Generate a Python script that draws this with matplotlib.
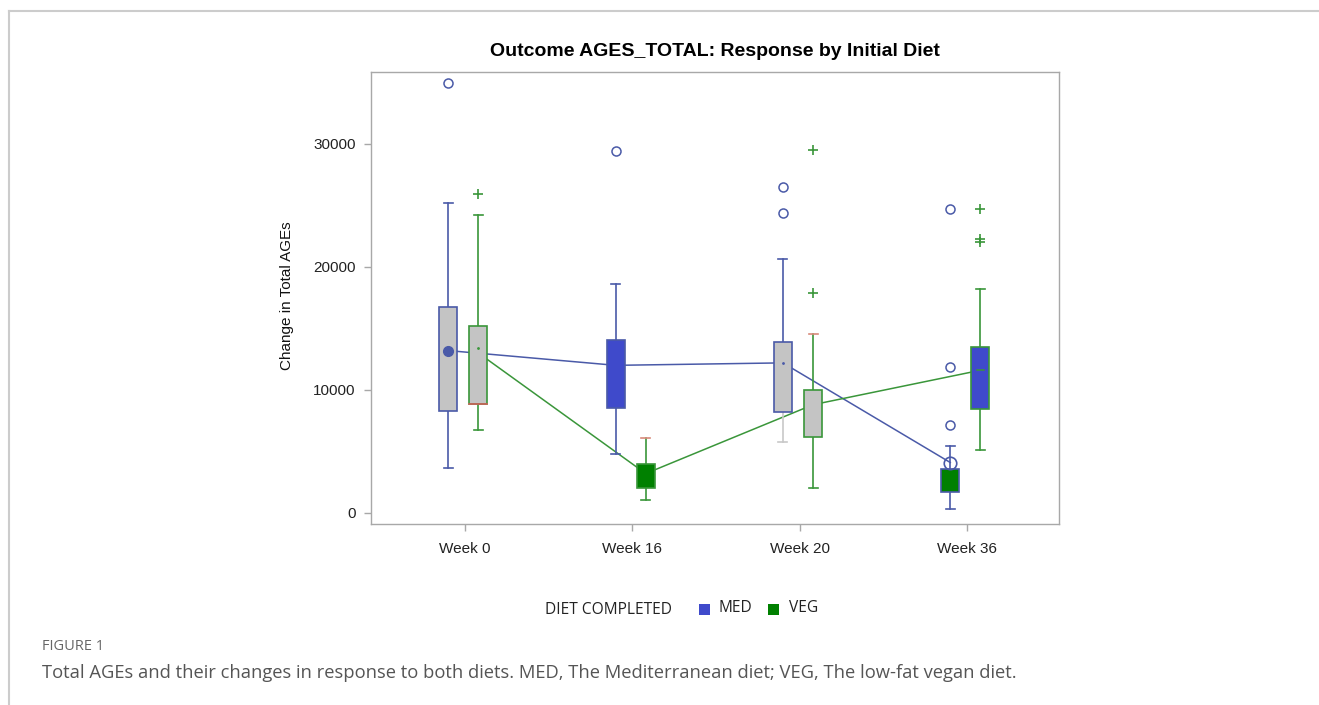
import matplotlib
matplotlib.use("Agg")
import matplotlib.pyplot as plt
from matplotlib.patches import Rectangle
from matplotlib.lines import Line2D

# ---------------- data ----------------
weeks = ["Week 0", "Week 16", "Week 20", "Week 36"]
diets = ["MED", "VEG"]
yticks = [0, 10000, 20000, 30000]

med_whislo = [3630, 4770, 5770, 300]
med_q1 = [8320, 8540, 8240, 1735]
med_q3 = [16775, 14040, 13875, 3550]
med_whishi = [25230, 18640, 20650, 5470]
med_mean = [13200, 12000, 12200, 4100]
med_outliers = [[34950], [29430], [26480, 24360], [24720, 11840, 7150]]

veg_whislo = [6750, 1030, 2060, 5120]
veg_q1 = [8860, 2000, 6150, 8430]
veg_q3 = [15230, 3980, 10000, 13520]
veg_whishi = [24200, 6100, 14530, 18240]
veg_mean = [13000, 3200, 8800, 11600]
veg_outliers = [[25950], [], [29510, 17910], [24720, 22250, 22050]]

# ---------------- styles ----------------
BLUE_LINE = "#4a5aa8"
BLUE_FILL = "#3f4acb"
GREEN_LINE = "#3a963a"
GREEN_FILL = "#008000"
GRAY_FILL = "#c4c4c4"
med_fills = [GRAY_FILL, BLUE_FILL, GRAY_FILL, GREEN_FILL]
veg_fills = [GRAY_FILL, GREEN_FILL, GRAY_FILL, BLUE_FILL]

W, H = 1319, 705
fig = plt.figure(figsize=(W / 100, H / 100), dpi=100)
fig.patch.set_facecolor("white")
ax = fig.add_axes([371 / W, 1 - 524 / H, (1058.7 - 371) / W, (524 - 72) / H])

x_idx = list(range(len(weeks)))
off_med, off_veg = -0.1, 0.08
bw = 0.108


def stats(lo, q1, q3, hi, fl, mean):
    return [dict(whislo=a, q1=b, q3=c, whishi=d, fliers=[], med=m, mean=m)
            for a, b, c, d, f, m in zip(lo, q1, q3, hi, fl, mean)]


def draw(st, pos, fills, col, outliers, marker):
    b = ax.bxp(st, positions=pos, widths=bw, patch_artist=True,
               showfliers=False, showmeans=False, manage_ticks=False,
               boxprops=dict(edgecolor=col, linewidth=1.2),
               whiskerprops=dict(color=col, linewidth=1.2),
               capprops=dict(color=col, linewidth=1.2),
               medianprops=dict(visible=False), capwidths=bw * 0.5)
    for patch, fc in zip(b["boxes"], fills):
        patch.set_facecolor(fc)
        patch.set_zorder(3)
    for k in ("whiskers", "caps"):
        for ln in b[k]:
            ln.set_zorder(2.5)
    for p, outs in zip(pos, outliers):
        if outs:
            if marker == "o":
                ax.plot([p] * len(outs), outs, "o", mfc="none", mec=col,
                        ms=6.5, mew=1.1, zorder=4)
            else:
                ax.plot([p] * len(outs), outs, "+", color=col, ms=7.5,
                        mew=1.2, zorder=4)
    return b


pos_med = [i + off_med for i in x_idx]
pos_veg = [i + off_veg for i in x_idx]

# mean lines
ax.plot(pos_med, med_mean, color=BLUE_LINE, lw=1.1, zorder=2)
ax.plot(pos_veg, veg_mean, color=GREEN_LINE, lw=1.1, zorder=2)

bm = draw(stats(med_whislo, med_q1, med_q3, med_whishi, med_outliers, med_mean),
          pos_med, med_fills, BLUE_LINE, med_outliers, "o")
bv = draw(stats(veg_whislo, veg_q1, veg_q3, veg_whishi, veg_outliers, veg_mean),
          pos_veg, veg_fills, GREEN_LINE, veg_outliers, "+")

# lower whisker of Week 20 MED is light gray in the original
bm["whiskers"][4].set_color("#c8c8c8")
bm["caps"][4].set_color("#c8c8c8")
# reddish top caps / bottom edge on some VEG boxes
bv["caps"][3].set_color("#d88a7a")
bv["caps"][5].set_color("#d88a7a")
ax.plot([pos_veg[0] - bw / 2, pos_veg[0] + bw / 2], [veg_q1[0], veg_q1[0]],
        color="#d0605a", lw=1.2, zorder=3.5)

# mean markers
ax.plot(pos_med[0], med_mean[0], "o", color=BLUE_LINE, ms=7, zorder=5)
ax.plot(pos_med[3], med_mean[3], "o", mfc="none", mec=BLUE_LINE, ms=9,
        mew=1.2, zorder=5)
ax.plot(pos_med[2], med_mean[2], ".", color=BLUE_LINE, ms=2, zorder=5)
ax.plot(pos_veg[0], veg_mean[0] + 400, ".", color=GREEN_LINE, ms=2, zorder=5)
ax.plot([pos_veg[3] - 0.02, pos_veg[3] + 0.02], [veg_mean[3]] * 2,
        color=GREEN_LINE, lw=1.1, zorder=5)

ax.set_xlim(-0.562, 3.548)
ax.set_ylim(-900, 35850)
ax.set_xticks(x_idx)
ax.set_xticklabels(weeks)
ax.set_yticks(yticks)
ax.set_yticklabels([str(v) for v in yticks])
for s in ax.spines.values():
    s.set_color("#a8a8a8")
    s.set_linewidth(1.0)
ax.tick_params(axis="both", colors="#a8a8a8", labelcolor="#222222",
               labelsize=11, length=5, width=1.0)
ax.tick_params(axis="y", pad=6)
ax.tick_params(axis="x", pad=8)
for t in ax.get_xticklabels() + ax.get_yticklabels():
    t.set_family("Liberation Sans")

fig.text(715 / W, 1 - 52 / H, "Outcome AGES_TOTAL: Response by Initial Diet",
         ha="center", va="center", fontsize=14, fontweight="bold",
         family="Liberation Sans", color="#000000")
fig.text(287 / W, 1 - 296 / H, "Change in Total AGEs", rotation=90,
         ha="center", va="center", fontsize=11, family="Liberation Sans",
         color="#111111")

# legend
ly = 1 - 610 / H
fig.text(545 / W, ly, "DIET COMPLETED", ha="left", va="center", fontsize=11.2,
         family="Open Sans", color="#222222")
for xs, col, lab, xt in [(699, BLUE_FILL, diets[0], 719), (768, GREEN_FILL, diets[1], 789)]:
    fig.add_artist(Rectangle((xs / W, 1 - 615 / H), 11 / W, 11 / H,
                             transform=fig.transFigure, facecolor=col,
                             edgecolor="none"))
    fig.text(xt / W, ly + 1.5 / H, lab, ha="left", va="center", fontsize=11.2,
             family="Open Sans", color="#222222")

# caption
fig.text(42 / W, 1 - 647 / H, "FIGURE 1", ha="left", va="center", fontsize=10.5,
         family="Open Sans", color="#666666")
fig.text(42 / W, 1 - 673 / H,
         "Total AGEs and their changes in response to both diets. MED, The Mediterranean diet; VEG, The low-fat vegan diet.",
         ha="left", va="center", fontsize=13.2, family="Open Sans", color="#555555")

# outer frame (top + left)
fig.add_artist(Line2D([9 / W, 1.0], [1 - 11 / H, 1 - 11 / H], transform=fig.transFigure,
                      color="#cccccc", lw=1.5))
fig.add_artist(Line2D([9 / W, 9 / W], [1 - 11 / H, 0], transform=fig.transFigure,
                      color="#cccccc", lw=1.5))

fig.savefig("out.png", dpi=100, facecolor="white")
